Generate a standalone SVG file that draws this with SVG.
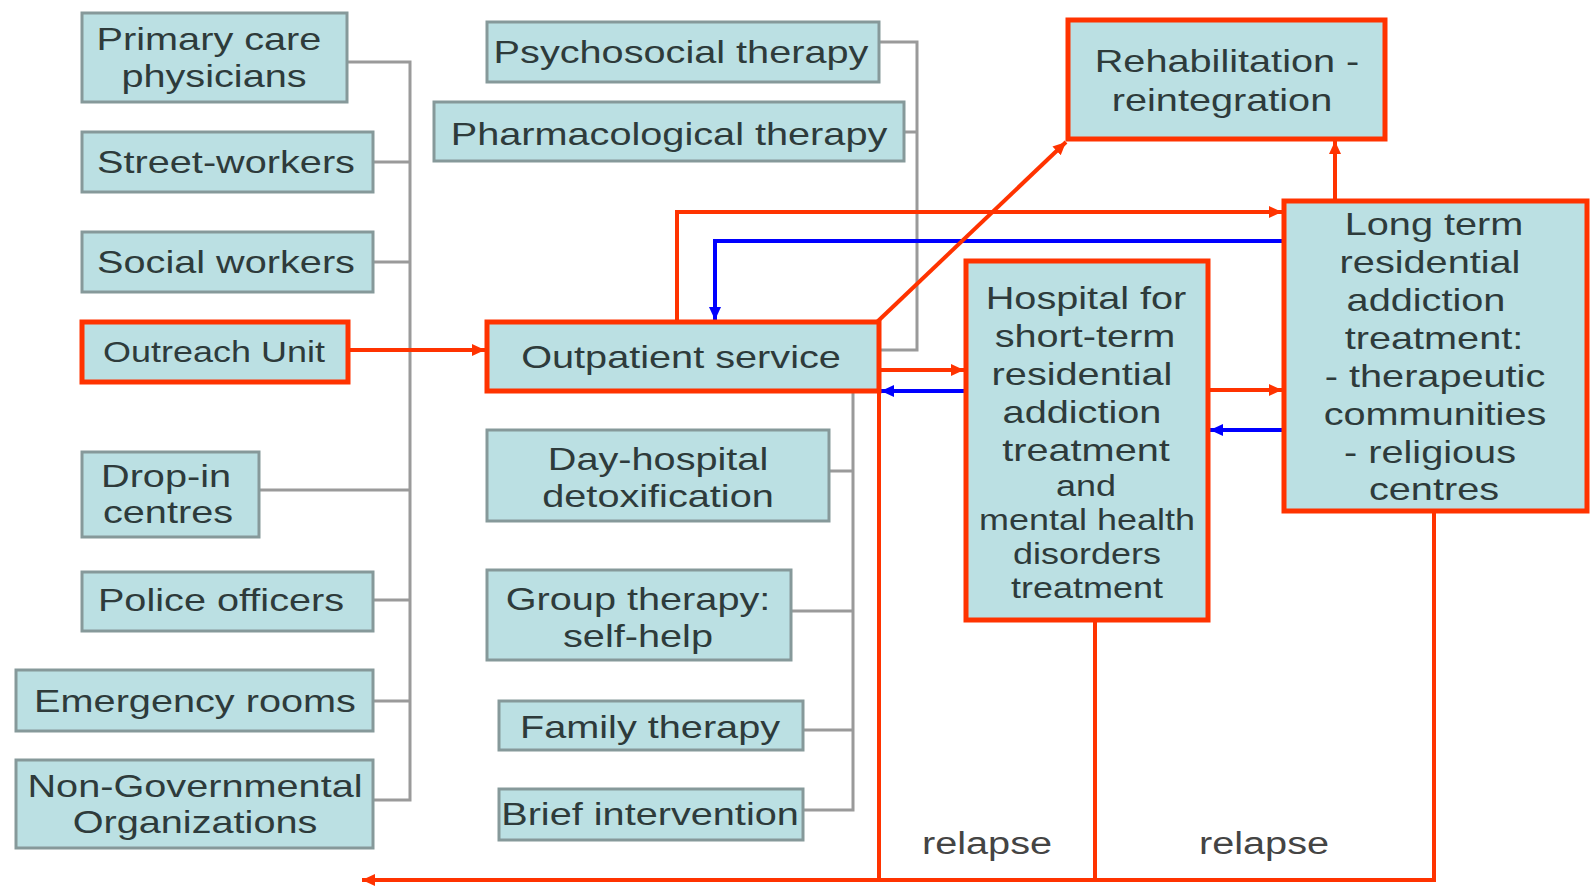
<svg xmlns="http://www.w3.org/2000/svg" width="1595" height="886" viewBox="0 0 1595 886">
  <style>
    .box { fill: #bbe0e3; stroke: #86999a; stroke-width: 3; }
    .hot { fill: #bbe0e3; stroke: #ff3300; stroke-width: 5; }
    .t { font-family: "Liberation Sans", Arial, sans-serif; font-size: 32px; fill: #2e3b3b; text-anchor: middle; }
    .s { font-size: 29px; }
    .lbl { font-family: "Liberation Sans", Arial, sans-serif; font-size: 31px; fill: #444; text-anchor: middle; }
    .bus { fill: none; stroke: #9a9a9a; stroke-width: 3; }
    .red { fill: none; stroke: #ff3300; stroke-width: 4; }
    .blue { fill: none; stroke: #0000ff; stroke-width: 4; }
  </style>
  <defs>
    <marker id="ah-red" markerUnits="userSpaceOnUse" markerWidth="14" markerHeight="14" refX="13" refY="7" orient="auto">
      <path d="M0,1 L13,7 L0,13 z" fill="#ff3300"/>
    </marker>
    <marker id="ah-blue" markerUnits="userSpaceOnUse" markerWidth="14" markerHeight="14" refX="13" refY="7" orient="auto">
      <path d="M0,1 L13,7 L0,13 z" fill="#0000ff"/>
    </marker>
  </defs>
  <rect width="1595" height="886" fill="#ffffff"/>

  <!-- connectors -->
  <g id="connectors">
    <!-- referral sources bus -->
    <path class="bus" d="M347,62 H410 V800 H373 M373,162 H410 M373,262 H410 M259,490 H410 M373,600 H410 M373,701 H410"/>
    <!-- therapy bus (upper) -->
    <path class="bus" d="M879,42 H917 V350 H879 M904,132 H917"/>
    <!-- therapy bus (lower) -->
    <path class="bus" d="M853,391 V810 H803 M829,471 H853 M791,611 H853 M803,730 H853"/>

    <!-- outreach to outpatient -->
    <path class="red" d="M348,350 H485" marker-end="url(#ah-red)"/>
    <!-- outpatient to long-term -->
    <path class="red" d="M677,322 V212 H1282" marker-end="url(#ah-red)"/>
    <!-- long-term back to outpatient -->
    <path class="blue" d="M1284,241 H715 V320" marker-end="url(#ah-blue)"/>
    <!-- outpatient to rehabilitation -->
    <path class="red" d="M877,322 L1066,142" marker-end="url(#ah-red)"/>
    <!-- outpatient to hospital -->
    <path class="red" d="M879,370 H964" marker-end="url(#ah-red)"/>
    <!-- hospital back to outpatient -->
    <path class="blue" d="M966,391 H881" marker-end="url(#ah-blue)"/>
    <!-- hospital to long-term -->
    <path class="red" d="M1208,390 H1282" marker-end="url(#ah-red)"/>
    <!-- long-term back to hospital -->
    <path class="blue" d="M1284,430 H1210" marker-end="url(#ah-blue)"/>
    <!-- long-term to rehabilitation -->
    <path class="red" d="M1335,201 V141" marker-end="url(#ah-red)"/>
    <!-- relapse paths -->
    <path class="red" d="M879,391 V880"/>
    <path class="red" d="M1095,620 V880"/>
    <path class="red" d="M1434,511 V880 H362" marker-end="url(#ah-red)"/>
    <text class="lbl" transform="matrix(1.28 0 0 1 987 854)">relapse</text>
    <text class="lbl" transform="matrix(1.28 0 0 1 1264 854)">relapse</text>
  </g>

  <!-- referral sources -->
  <g id="primary-care">
    <rect class="box" x="82" y="13" width="265" height="89"/>
    <text class="t" transform="matrix(1.24 0 0 1 209 50)">Primary care</text>
    <text class="t" transform="matrix(1.24 0 0 1 214 87)">physicians</text>
  </g>
  <g id="street-workers">
    <rect class="box" x="82" y="132" width="291" height="60"/>
    <text class="t" transform="matrix(1.24 0 0 1 226 173)">Street-workers</text>
  </g>
  <g id="social-workers">
    <rect class="box" x="82" y="232" width="291" height="60"/>
    <text class="t" transform="matrix(1.24 0 0 1 226 273)">Social workers</text>
  </g>
  <g id="outreach-unit">
    <rect class="hot" x="82" y="322" width="266" height="60"/>
    <text class="t s" transform="matrix(1.24 0 0 1 214 362)">Outreach Unit</text>
  </g>
  <g id="drop-in">
    <rect class="box" x="82" y="452" width="177" height="85"/>
    <text class="t" transform="matrix(1.24 0 0 1 166 487)">Drop-in</text>
    <text class="t" transform="matrix(1.24 0 0 1 168 523)">centres</text>
  </g>
  <g id="police">
    <rect class="box" x="82" y="572" width="291" height="59"/>
    <text class="t" transform="matrix(1.24 0 0 1 221 611)">Police officers</text>
  </g>
  <g id="emergency">
    <rect class="box" x="16" y="670" width="357" height="61"/>
    <text class="t" transform="matrix(1.24 0 0 1 195 712)">Emergency rooms</text>
  </g>
  <g id="ngo">
    <rect class="box" x="16" y="760" width="357" height="88"/>
    <text class="t" transform="matrix(1.24 0 0 1 195 797)">Non-Governmental</text>
    <text class="t" transform="matrix(1.24 0 0 1 195 833)">Organizations</text>
  </g>

  <!-- therapies -->
  <g id="psychosocial">
    <rect class="box" x="487" y="22" width="392" height="60"/>
    <text class="t" transform="matrix(1.24 0 0 1 681 63)">Psychosocial therapy</text>
  </g>
  <g id="pharmacological">
    <rect class="box" x="434" y="102" width="470" height="59"/>
    <text class="t" transform="matrix(1.24 0 0 1 669 145)">Pharmacological therapy</text>
  </g>
  <g id="outpatient">
    <rect class="hot" x="487" y="322" width="392" height="69"/>
    <text class="t" transform="matrix(1.24 0 0 1 681 368)">Outpatient service</text>
  </g>
  <g id="day-hospital">
    <rect class="box" x="487" y="430" width="342" height="91"/>
    <text class="t" transform="matrix(1.24 0 0 1 658 470)">Day-hospital</text>
    <text class="t" transform="matrix(1.24 0 0 1 658 507)">detoxification</text>
  </g>
  <g id="group-therapy">
    <rect class="box" x="487" y="570" width="304" height="90"/>
    <text class="t" transform="matrix(1.24 0 0 1 638 610)">Group therapy:</text>
    <text class="t" transform="matrix(1.24 0 0 1 638 647)">self-help</text>
  </g>
  <g id="family-therapy">
    <rect class="box" x="499" y="701" width="304" height="49"/>
    <text class="t" transform="matrix(1.24 0 0 1 650 738)">Family therapy</text>
  </g>
  <g id="brief-intervention">
    <rect class="box" x="499" y="789" width="304" height="51"/>
    <text class="t" transform="matrix(1.24 0 0 1 650 825)">Brief intervention</text>
  </g>

  <!-- residential and rehabilitation -->
  <g id="rehabilitation">
    <rect class="hot" x="1068" y="20" width="317" height="119"/>
    <text class="t" transform="matrix(1.24 0 0 1 1227 72)">Rehabilitation -</text>
    <text class="t" transform="matrix(1.24 0 0 1 1222 111)">reintegration</text>
  </g>
  <g id="hospital">
    <rect class="hot" x="966" y="261" width="242" height="359"/>
    <text class="t" transform="matrix(1.24 0 0 1 1086 309)">Hospital for</text>
    <text class="t" transform="matrix(1.24 0 0 1 1085 347)">short-term</text>
    <text class="t" transform="matrix(1.24 0 0 1 1082 385)">residential</text>
    <text class="t" transform="matrix(1.24 0 0 1 1082 423)">addiction</text>
    <text class="t" transform="matrix(1.24 0 0 1 1086 461)">treatment</text>
    <text class="t s" transform="matrix(1.24 0 0 1 1086 496)">and</text>
    <text class="t s" transform="matrix(1.24 0 0 1 1087 530)">mental health</text>
    <text class="t s" transform="matrix(1.24 0 0 1 1087 564)">disorders</text>
    <text class="t s" transform="matrix(1.24 0 0 1 1087 598)">treatment</text>
  </g>
  <g id="long-term">
    <rect class="hot" x="1284" y="201" width="303" height="310"/>
    <text class="t" transform="matrix(1.24 0 0 1 1434 235)">Long term</text>
    <text class="t" transform="matrix(1.24 0 0 1 1430 273)">residential</text>
    <text class="t" transform="matrix(1.24 0 0 1 1426 311)">addiction</text>
    <text class="t" transform="matrix(1.24 0 0 1 1434 349)">treatment:</text>
    <text class="t" transform="matrix(1.24 0 0 1 1435 387)">- therapeutic</text>
    <text class="t" transform="matrix(1.24 0 0 1 1435 425)">communities</text>
    <text class="t" transform="matrix(1.24 0 0 1 1430 463)">- religious</text>
    <text class="t" transform="matrix(1.24 0 0 1 1434 500)">centres</text>
  </g>
</svg>
